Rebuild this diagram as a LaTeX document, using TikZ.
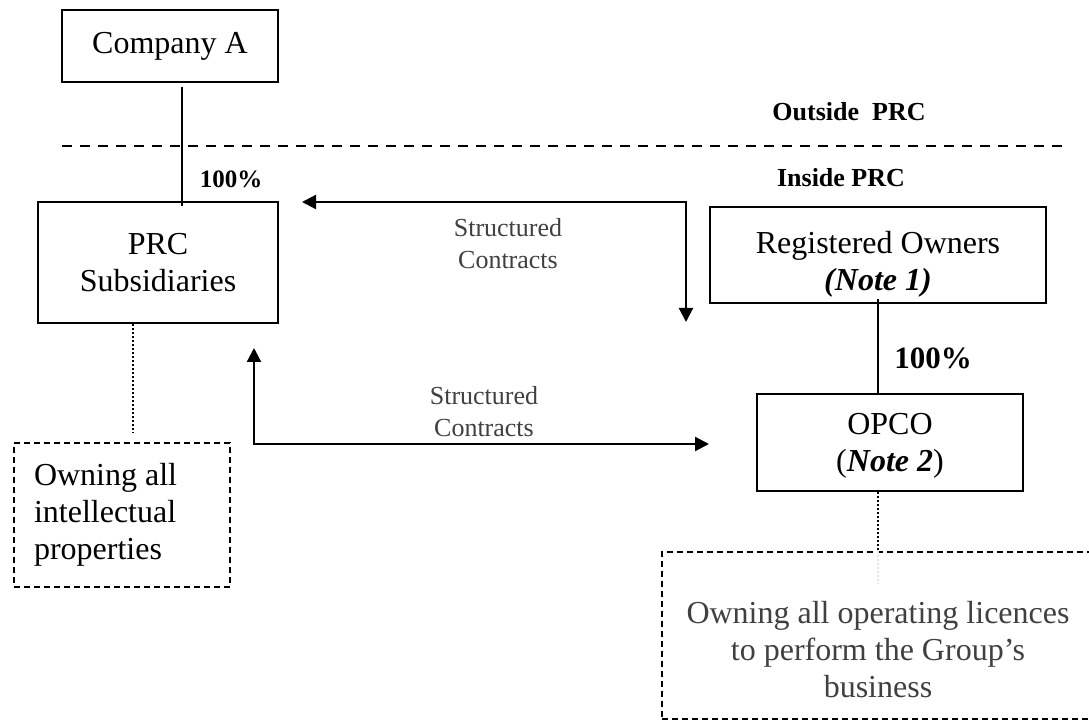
\documentclass[tikz,border=0pt]{standalone}
\usepackage{fontspec}
\setmainfont{Liberation Serif}
\usetikzlibrary{arrows.meta, calc}

\definecolor{txtgray}{HTML}{404040}

\tikzset{
  box/.style={draw, line width=0.9pt, inner sep=0pt, align=center,
    font=\fontsize{16}{18.5}\selectfont},
  boxtext/.style={align=center, inner sep=0pt, font=\fontsize{16}{18.5}\selectfont},
  notebox/.style={draw, dashed, dash pattern=on 3pt off 2pt, line width=0.8pt, inner sep=0pt},
  ctarrow/.style={line width=1.1pt, {Triangle[length=7pt,width=7pt]}-{Triangle[length=7pt,width=7pt]}},
  dotline/.style={line width=1.3pt, dash pattern=on 1pt off 1pt},
  pct/.style={font=\bfseries\fontsize{#1}{#1}\selectfont},
  sclabel/.style={align=center, text=txtgray, font=\fontsize{13}{16}\selectfont},
  region/.style={font=\bfseries\fontsize{13}{15}\selectfont}
}

\begin{document}
\begin{tikzpicture}[x=0.5pt, y=-0.5pt]

  % Frame of the picture
  \useasboundingbox (0,0) rectangle (1089,721);
  \clip (0,0) rectangle (1089,721);

  % Define arrow end points
  \coordinate (t1) at (302,202);
  \coordinate (t2) at (686,322);
  \coordinate (b1) at (254,348);
  \coordinate (b2) at (709,444);
  \coordinate (sepL) at (62,146);
  \coordinate (sepR) at (1067,146);

  % Entities
  \node[box, minimum width=108pt, minimum height=36pt] (compA) at (170,46) {Company A};
  \node[box, minimum width=120pt, minimum height=60.5pt] (prcsub) at (158,262.5) {PRC\\Subsidiaries};
  \node[box, minimum width=168pt, minimum height=48pt] (regown) at (878,255) {};
  \node[boxtext] (regtext) at (878,264) {Registered Owners\\\textbf{\textit{(Note 1)}}};
  \node[box, minimum width=133pt, minimum height=48.5pt] (opco) at (890,442.5) {};
  \node[boxtext] (opcotext) at (890,446) {OPCO\\(\textbf{\textit{Note 2}})};

  % Notes in dashed boxes
  \node[notebox, minimum width=108pt, minimum height=72pt, text width=88pt, inner xsep=10pt,
    align=flush left, font=\fontsize{16}{18.5}\selectfont] (ipbox) at (122,515)
    {Owning all\\intellectual\\properties};
  \node[notebox, minimum width=216pt, minimum height=83.5pt] (licbox) at (878,635.5) {};
  \node[boxtext, text=txtgray] (lictext) at (878,650)
    {Owning all operating licences\\to perform the Group's\\business};

  % Labels
  \node[region] (outlbl) at (849,112) {Outside\ \ PRC};
  \node[region] (inlbl) at (841,178) {Inside PRC};
  \node[pct=12.5] (pct1) at (231,179) {100\%};
  \node[pct=15.5] (pct2) at (933,358) {100\%};
  \node[sclabel] (sc1) at (508,244) {Structured\\Contracts};
  \node[sclabel] (sc2) at (484,412) {Structured\\Contracts};

  % Border line
  \draw[line width=0.8pt, dash pattern=on 5pt off 4pt] (sepL) -- (sepR);

  % Ownership lines
  \coordinate (ownA) at ([xshift=6pt,yshift=-2pt]compA.south);
  \draw[line width=0.9pt] (ownA) -- ([yshift=-2.5pt]ownA |- prcsub.north);
  \draw[line width=0.9pt] ([yshift=2.5pt]regown.south) -- (opco.north -| regown.south);

  % Structured contracts
  \draw[ctarrow] (t1) -| (t2);
  \draw[ctarrow] (b1) |- (b2);

  % Dotted links to notes
  \draw[dotline] ([xshift=-12.5pt]prcsub.south) -- ([xshift=5.5pt,yshift=4.5pt]ipbox.north);
  \draw[dotline] ([xshift=-6pt]opco.south) -- (licbox.north);
  \draw[dotline, gray!20] (licbox.north) -- ++(0,33);

\end{tikzpicture}
\end{document}
